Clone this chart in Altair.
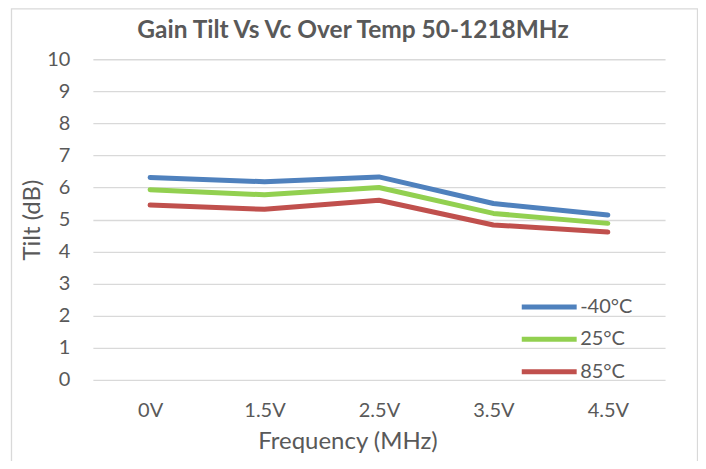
import altair as alt
import pandas as pd

categories = ["0V", "1.5V", "2.5V", "3.5V", "4.5V"]
series_names = ["-40°C", "25°C", "85°C"]
tilt_m40 = [6.31, 6.18, 6.33, 5.50, 5.14]
tilt_25 = [5.93, 5.77, 6.00, 5.19, 4.88]
tilt_85 = [5.45, 5.32, 5.60, 4.83, 4.61]
colors = ["#4F81BD", "#92D050", "#C0504D"]
y_ticks = list(range(0, 11))

rows = []
for name, vals in zip(series_names, [tilt_m40, tilt_25, tilt_85]):
    for c, v in zip(categories, vals):
        rows.append({"Vc": c, "Tilt": v, "Temp": name})
df = pd.DataFrame(rows)

FONT = "Lato"
TXT = "#595959"

border = alt.Chart(pd.DataFrame({"a": [0]})).mark_rect(
    fillOpacity=0, stroke="#D9D9D9", strokeWidth=1.3
).encode(
    x=alt.value(-81.5), x2=alt.value(605.5),
    y=alt.value(-50.5), y2=alt.value(460),
)

lines = alt.Chart(df).mark_line(
    strokeWidth=5, strokeCap="round", strokeJoin="round"
).encode(
    x=alt.X("Vc:N", sort=categories,
            scale=alt.Scale(type="point", padding=0.5),
            axis=alt.Axis(title="Frequency (MHz)", labelAngle=0, domain=False,
                          ticks=False, labelPadding=21, titlePadding=9,
                          titleX=255, grid=False)),
    y=alt.Y("Tilt:Q", scale=alt.Scale(domain=[0, 10], nice=False),
            axis=alt.Axis(title="Tilt (dB)", values=y_ticks, domain=False,
                          ticks=False, labelPadding=23, titlePadding=2,
                          grid=True)),
    color=alt.Color("Temp:N", sort=series_names,
                    scale=alt.Scale(domain=series_names, range=colors),
                    legend=alt.Legend(title=None, orient="none",
                                      legendX=427, legendY=232,
                                      symbolType="stroke", symbolSize=3025,
                                      symbolStrokeWidth=5, clipHeight=32,
                                      rowPadding=0.5, labelOffset=1,
                                      padding=0)),
    detail="Temp:N",
)

chart = alt.layer(border, lines).properties(
    width=573, height=321,
    autosize="none",
    padding={"left": 85, "top": 51, "right": 33, "bottom": 81},
    title=alt.TitleParams("Gain Tilt Vs Vc Over Temp 50-1218MHz", anchor="middle",
                          dx=-26, dy=54, baseline="alphabetic", fontSize=24.5,
                          fontWeight="bold", color=TXT, font=FONT, offset=0),
).configure_view(stroke=None).configure_axis(
    labelFont=FONT, titleFont=FONT, labelFontSize=20, titleFontSize=24,
    labelColor=TXT, titleColor=TXT, titleFontWeight="normal",
    gridColor="#D9D9D9", gridWidth=1.3,
).configure_legend(
    labelFont=FONT, labelFontSize=20, labelColor=TXT,
)

chart.save("out.html", embed_options={"renderer": "svg", "actions": False})
